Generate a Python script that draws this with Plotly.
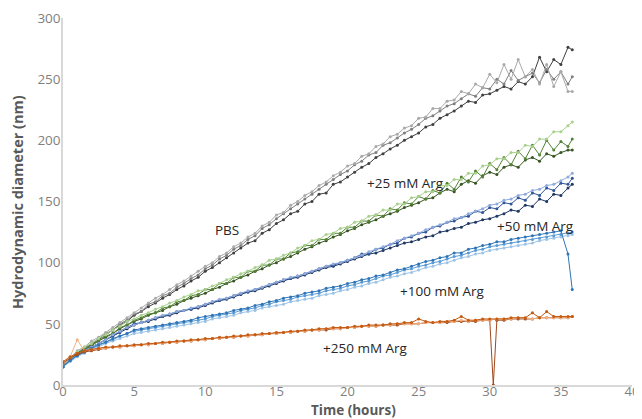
import plotly.graph_objects as go

# sampling times (hours)
hours = [0, 0.5, 1, 1.5, 2, 2.5, 3, 3.5, 4, 4.5, 5, 5.5, 6, 6.5, 7, 7.5, 8, 8.5, 9, 9.5,
         10, 10.5, 11, 11.5, 12, 12.5, 13, 13.5, 14, 14.5, 15, 15.5, 16, 16.5, 17, 17.5,
         18, 18.5, 19, 19.5, 20, 20.5, 21, 21.5, 22, 22.5, 23, 23.5, 24, 24.5, 25, 25.5,
         26, 26.5, 27, 27.5, 28, 28.5, 29, 29.5, 30, 30.5, 31, 31.5, 32, 32.5, 33, 33.5,
         34, 34.5, 35, 35.5, 35.8]
# one 250 mM replicate has an extra reading at 30.25 h (the dropout)
hours_dip = hours[:61] + [30.25] + hours[61:]

# --- PBS ---
pbs_light = [17, 22, 28, 31, 36, 39, 43, 47, 51, 55,
             59, 63, 67, 71, 74, 78, 82, 85, 89, 93,
             97, 100, 105, 108, 113, 116, 121, 124, 130, 133,
             139, 141, 147, 150, 155, 158, 163, 166, 171, 174,
             179, 181, 187, 189, 195, 197, 203, 205, 210, 212,
             218, 219, 226, 226, 232, 233, 240, 238, 246, 243,
             254, 247, 262, 250, 266, 252, 258, 246, 262, 244,
             256, 240, 240]
pbs_mid = [16, 21, 27, 30, 34, 38, 42, 45, 50, 53,
           58, 60, 66, 68, 73, 75, 80, 83, 87, 90,
           95, 98, 103, 106, 111, 114, 119, 122, 128, 131,
           136, 140, 144, 148, 152, 156, 160, 164, 168, 172,
           175, 180, 183, 188, 190, 196, 198, 202, 206, 209,
           213, 218, 220, 224, 228, 230, 234, 238, 236, 243,
           242, 250, 246, 257, 249, 252, 255, 247, 258, 250,
           256, 246, 252]
pbs_dark = [16, 21, 26, 30, 33, 37, 41, 45, 49, 52,
            57, 60, 64, 67, 71, 74, 78, 81, 85, 88,
            93, 96, 100, 104, 108, 112, 116, 118, 124, 127,
            132, 135, 140, 142, 148, 150, 156, 157, 164, 166,
            170, 174, 178, 181, 186, 189, 193, 196, 200, 203,
            206, 211, 213, 218, 221, 224, 228, 232, 231, 237,
            238, 241, 244, 242, 248, 246, 252, 268, 256, 266,
            262, 276, 274]

# --- +25 mM Arg ---
arg25_light = [15, 21, 27, 31, 34, 38, 41, 45, 48, 52,
               54, 57, 59, 62, 64, 67, 69, 72, 74, 77,
               78, 81, 83, 86, 88, 91, 93, 96, 98, 102,
               103, 106, 108, 112, 114, 118, 119, 123, 124, 128,
               129, 133, 134, 138, 139, 143, 143, 148, 148, 153,
               154, 158, 158, 163, 163, 168, 168, 173, 173, 179,
               180, 185, 185, 190, 190, 196, 195, 201, 201, 207,
               207, 212, 215]
arg25_mid = [15, 20, 26, 29, 33, 36, 40, 42, 47, 49,
             53, 55, 58, 59, 63, 64, 68, 69, 73, 74,
             78, 78, 83, 83, 88, 88, 93, 93, 98, 98,
             103, 103, 108, 109, 114, 114, 119, 119, 124, 124,
             129, 129, 134, 134, 139, 138, 144, 143, 149, 148,
             154, 152, 159, 157, 165, 160, 170, 166, 175, 170,
             181, 176, 186, 180, 191, 185, 196, 188, 200, 192,
             199, 195, 201]
arg25_dark = [15, 20, 25, 29, 32, 36, 39, 42, 46, 49,
              52, 54, 57, 59, 61, 64, 66, 69, 71, 73,
              75, 78, 80, 83, 85, 88, 90, 93, 95, 98,
              100, 103, 105, 108, 111, 113, 116, 118, 121, 123,
              126, 128, 131, 133, 135, 138, 140, 142, 145, 147,
              149, 152, 153, 157, 160, 158, 164, 167, 165, 171,
              174, 172, 178, 180, 178, 184, 186, 183, 189, 187,
              190, 192, 192]

# --- +50 mM Arg ---
arg50_light = [15, 20, 25, 28, 31, 34, 37, 41, 44, 47,
               49, 51, 53, 55, 57, 58, 60, 61, 63, 64,
               66, 68, 70, 71, 73, 75, 77, 78, 80, 82,
               84, 86, 88, 89, 91, 93, 95, 97, 99, 100,
               102, 104, 106, 109, 111, 113, 115, 118, 120, 122,
               124, 127, 129, 131, 133, 136, 137, 140, 142, 144,
               147, 148, 151, 152, 155, 156, 159, 160, 163, 164,
               167, 170, 173]
arg50_mid = [15, 20, 25, 28, 31, 34, 37, 40, 44, 47,
             50, 51, 53, 55, 56, 58, 60, 61, 62, 64,
             66, 68, 69, 71, 73, 75, 76, 78, 80, 82,
             84, 86, 87, 89, 91, 93, 95, 97, 98, 100,
             102, 104, 107, 107, 111, 112, 115, 116, 120, 121,
             124, 125, 129, 130, 133, 134, 137, 138, 142, 141,
             145, 144, 149, 148, 153, 151, 157, 155, 161, 159,
             165, 164, 169]
arg50_dark = [15, 20, 24, 28, 31, 34, 37, 40, 43, 46,
              49, 51, 52, 54, 56, 57, 59, 61, 62, 63,
              65, 67, 69, 70, 72, 74, 76, 77, 79, 81,
              83, 85, 87, 88, 90, 92, 94, 96, 97, 99,
              101, 103, 105, 107, 108, 110, 112, 114, 116, 117,
              119, 121, 122, 125, 126, 128, 129, 132, 133, 135,
              136, 138, 140, 143, 142, 147, 146, 152, 150, 156,
              155, 161, 164]

# --- +100 mM Arg ---
arg100_dark = [15, 20, 24, 27, 30, 33, 35, 38, 40, 42,
               45, 46, 47, 48, 49, 50, 51, 52, 53, 55,
               56, 57, 58, 59, 61, 62, 63, 65, 66, 68,
               69, 71, 72, 73, 75, 76, 77, 79, 80, 81,
               83, 84, 86, 87, 89, 90, 92, 94, 95, 97,
               99, 101, 102, 104, 105, 108, 108, 111, 112, 114,
               115, 117, 117, 119, 120, 121, 122, 123, 124, 125,
               126, 107, 78]
arg100_mid = [15, 20, 24, 27, 30, 32, 35, 37, 40, 42,
              44, 45, 46, 47, 48, 49, 50, 51, 52, 53,
              54, 56, 57, 58, 59, 61, 62, 63, 65, 66,
              68, 69, 70, 72, 73, 74, 75, 77, 78, 79,
              81, 82, 84, 85, 87, 89, 90, 92, 94, 95,
              97, 98, 100, 101, 103, 105, 106, 108, 110, 111,
              113, 114, 115, 116, 117, 118, 119, 120, 121, 122,
              123, 124, 125]
arg100_light = [15, 19, 23, 26, 29, 31, 34, 36, 38, 40,
                42, 43, 44, 45, 46, 47, 48, 49, 50, 51,
                52, 54, 55, 56, 57, 59, 60, 61, 63, 64,
                65, 66, 68, 69, 70, 71, 73, 74, 75, 77,
                78, 80, 81, 83, 84, 86, 88, 89, 91, 92,
                94, 96, 97, 99, 100, 102, 104, 105, 107, 108,
                110, 111, 112, 113, 114, 115, 116, 118, 119, 120,
                121, 122, 123]

# --- +250 mM Arg ---
arg250_mid = [19, 23, 26, 28, 29, 30, 31, 31, 32, 32,
              33, 33, 34, 34, 35, 35, 36, 36, 37, 37,
              38, 38, 39, 39, 40, 40, 41, 41, 42, 42,
              43, 43, 44, 44, 45, 45, 46, 46, 47, 47,
              47, 48, 48, 49, 49, 49, 50, 50, 51, 51,
              54, 52, 51, 52, 52, 53, 56, 53, 53, 54,
              54, 54, 54, 55, 55, 55, 59, 55, 60, 56,
              56, 56, 56]
arg250_light = [19, 23, 37, 28, 29, 30, 30, 31, 31, 32,
                32, 33, 33, 34, 34, 35, 35, 36, 36, 37,
                37, 38, 38, 39, 39, 40, 40, 41, 41, 42,
                42, 43, 43, 44, 44, 45, 45, 46, 46, 46,
                47, 47, 48, 48, 48, 49, 49, 50, 50, 50,
                50, 51, 51, 51, 52, 52, 53, 52, 53, 53,
                53, 54, 54, 54, 55, 55, 54, 55, 55, 55,
                55, 55, 56]
arg250_dark = [18, 22, 25, 27, 28, 29, 30, 31, 31, 32,
               32, 33, 33, 34, 34, 35, 35, 36, 36, 37,
               37, 38, 38, 39, 39, 40, 40, 41, 41, 42,
               42, 43, 43, 44, 44, 45, 45, 45, 46, 46,
               47, 47, 48, 48, 48, 49, 49, 49, 50, 50,
               50, 51, 51, 51, 51, 52, 52, 52, 52, 53,
               53, 0,
               53, 53, 54, 54, 54, 54, 55, 55, 55, 55, 55, 56]

series = [
    (hours, pbs_dark, "#404040"),
    (hours, pbs_mid, "#7f7f7f"),
    (hours, pbs_light, "#aaaaaa"),
    (hours, arg25_dark, "#375623"),
    (hours, arg25_mid, "#548235"),
    (hours, arg25_light, "#a9d18e"),
    (hours, arg50_dark, "#1f3864"),
    (hours, arg50_mid, "#2f5597"),
    (hours, arg50_light, "#8faadc"),
    (hours, arg100_light, "#9dc3e6"),
    (hours, arg100_mid, "#5b9bd5"),
    (hours, arg100_dark, "#2e75b6"),
    (hours_dip, arg250_dark, "#9e4a1c"),
    (hours, arg250_light, "#f4b183"),
    (hours, arg250_mid, "#c55a11"),
]

fig = go.Figure()
for x, y, col in series:
    assert len(x) == len(y), (len(x), len(y))
    fig.add_trace(go.Scatter(
        x=x, y=y, mode="lines+markers",
        line=dict(color=col, width=1),
        marker=dict(color=col, size=3),
        showlegend=False, hoverinfo="skip",
    ))

# group labels
label_text = ["PBS", "+25 mM Arg", "+50 mM Arg", "+100 mM Arg", "+250 mM Arg"]
label_x = [11.5, 24.05, 33.2, 26.7, 21.3]
label_y = [127, 165.5, 130, 77, 30]
for txt, lx, ly in zip(label_text, label_x, label_y):
    fig.add_annotation(x=lx, y=ly, text=txt, showarrow=False,
                       font=dict(size=13.5, color="#262626"))

# axis titles placed as paper annotations
fig.add_annotation(x=0.51, y=-0.068, xref="paper", yref="paper",
                   text="<b>Time (hours)</b>", showarrow=False, yanchor="middle",
                   font=dict(size=13.5, color="#595959"))
fig.add_annotation(x=-0.08, y=0.5, xref="paper", yref="paper", textangle=-90,
                   text="<b>Hydrodynamic diameter (nm)</b>", showarrow=False,
                   xanchor="center", font=dict(size=14.5, color="#595959"))

# the page body adds an 8 px offset, so the figure is sized to fit inside it
fig.update_layout(
    width=634, height=411,
    margin=dict(l=55, r=10, t=10, b=34),
    plot_bgcolor="white", paper_bgcolor="white",
    font=dict(family="Open Sans", color="#7f7f7f"),
)
fig.update_xaxes(
    range=[0, 40], dtick=5, showgrid=False, zeroline=False, automargin=False,
    showline=True, linecolor="#d9d9d9", linewidth=1.5,
    tickfont=dict(size=13, color="#7f7f7f"), ticklabelstandoff=-6,
    ticklabeloverflow="allow",
)
fig.update_yaxes(
    range=[0, 300], dtick=50, showgrid=False, zeroline=False, automargin=False,
    showline=True, linecolor="#d9d9d9", linewidth=1.5,
    tickfont=dict(size=13.5, color="#7f7f7f"), ticklabelstandoff=-2,
    ticklabeloverflow="allow",
)

fig.write_html("out.html")
